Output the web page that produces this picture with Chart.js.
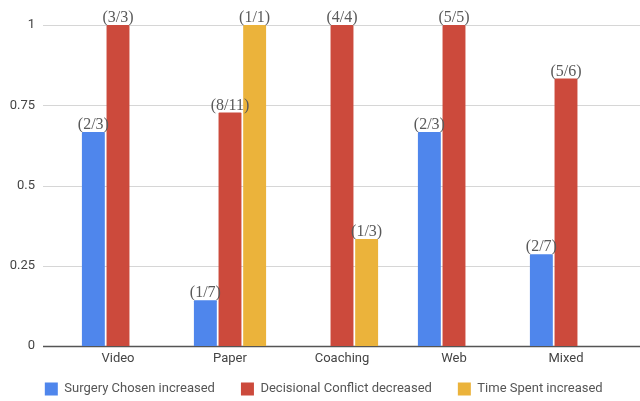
<!DOCTYPE html>
<html>
<head>
<meta charset="utf-8">
<script src="https://cdn.jsdelivr.net/npm/chart.js@4"></script>
<style>
html,body{margin:0;padding:0;background:#fff;}
#wrap{width:640px;height:401px;}
</style>
</head>
<body>
<div id="wrap"><canvas id="c"></canvas></div>
<script>
const categories = ['Video', 'Paper', 'Coaching', 'Web', 'Mixed'];
const surgeryChosen = [2/3, 1/7, null, 2/3, 2/7];
const decisionalConflict = [1, 8/11, 1, 1, 5/6];
const timeSpent = [null, 1, 1/3, null, null];
const surgeryLabels = ['(2/3)', '(1/7)', '', '(2/3)', '(2/7)'];
const conflictLabels = ['(3/3)', '(8/11)', '(4/4)', '(5/5)', '(5/6)'];
const timeLabels = ['', '(1/1)', '(1/3)', '', ''];
const yTickValues = [0, 0.25, 0.5, 0.75, 1];
const yTickLabels = ['0', '0.25', '0.5', '0.75', '1'];

const pointLabels = [surgeryLabels, conflictLabels, timeLabels];

const barLabelPlugin = {
  id: 'barLabels',
  afterDatasetsDraw(chart) {
    const ctx = chart.ctx;
    ctx.save();
    ctx.font = '16px "Liberation Serif", "Times New Roman", serif';
    ctx.fillStyle = '#5a5a5a';
    ctx.textAlign = 'center';
    ctx.textBaseline = 'bottom';
    chart.data.datasets.forEach((ds, di) => {
      const meta = chart.getDatasetMeta(di);
      meta.data.forEach((el, i) => {
        const txt = pointLabels[di][i];
        if (!txt || ds.data[i] == null) return;
        ctx.fillText(txt, el.x, el.y + 1);
      });
    });
    ctx.restore();
  }
};

const gridPlugin = {
  id: 'wideGrid',
  beforeDatasetsDraw(chart) {
    const ctx = chart.ctx;
    const y = chart.scales.y;
    const left = chart.chartArea.left - 19;
    const right = chart.width;
    ctx.save();
    yTickValues.forEach(v => {
      const py = Math.round(y.getPixelForValue(v)) + 0.5;
      ctx.beginPath();
      ctx.strokeStyle = v === 0 ? '#555555' : '#d6d6d6';
      ctx.lineWidth = v === 0 ? 1.5 : 1;
      ctx.moveTo(left, py);
      ctx.lineTo(right, py);
      ctx.stroke();
    });
    ctx.restore();
  }
};

const LEGEND_DX = 7.5, LEGEND_DY = -14.5;
const legendTweak = {
  id: 'legendTweak',
  afterInit(chart) {
    const lg = chart.legend;
    if (!lg) return;
    const fit = lg.fit;
    lg.fit = function () { fit.apply(this, arguments); this.height = 30; };
    const draw = lg.draw;
    lg.draw = function () {
      const ctx = this.ctx;
      const b = this.bottom, l = this.left;
      ctx.save();
      ctx.translate(LEGEND_DX, LEGEND_DY);
      this.bottom = b - LEGEND_DY;
      this.left = l - LEGEND_DX;
      draw.apply(this, arguments);
      this.bottom = b;
      this.left = l;
      ctx.restore();
    };
  }
};

new Chart(document.getElementById('c'), {
  type: 'bar',
  data: {
    labels: categories,
    datasets: [
      { label: 'Surgery Chosen increased', data: surgeryChosen, backgroundColor: '#4f86ec' },
      { label: 'Decisional Conflict decreased', data: decisionalConflict, backgroundColor: '#cc4a3c' },
      { label: 'Time Spent increased', data: timeSpent, backgroundColor: '#ebb33b' }
    ]
  },
  options: {
    responsive: true,
    maintainAspectRatio: false,
    animation: false,
    devicePixelRatio: 1,
    layout: { padding: { top: 25, left: 0, right: 0, bottom: 0 } },
    datasets: { bar: { categoryPercentage: 0.66, barPercentage: 0.93, borderRadius: 1 } },
    plugins: {
      legend: {
        position: 'bottom',
        labels: {
          boxWidth: 13,
          boxHeight: 13,
          padding: 26,
          color: '#555555',
          font: { family: 'Roboto', size: 13 }
        }
      },
      tooltip: { enabled: false }
    },
    scales: {
      x: {
        afterFit(scale) { scale.height = 25; },
        grid: { display: false, drawTicks: false },
        border: { display: false },
        ticks: { color: '#444444', font: { family: 'Roboto', size: 13 }, padding: 5 }
      },
      y: {
        min: 0,
        max: 1,
        afterBuildTicks(scale) { scale.ticks = yTickValues.map(v => ({ value: v })); },
        afterFit(scale) { scale.width = 62; scale.paddingTop = 8; scale.paddingBottom = 8; },
        grid: { display: false, drawTicks: false },
        border: { display: false },
        ticks: {
          color: '#444444',
          font: { family: 'Roboto', size: 13 },
          padding: 27,
          callback: (v) => yTickLabels[yTickValues.indexOf(v)]
        }
      },
      y2: {
        position: 'right',
        display: true,
        afterFit(scale) { scale.width = 18; },
        grid: { display: false },
        border: { display: false },
        ticks: { display: false }
      }
    }
  },
  plugins: [gridPlugin, barLabelPlugin, legendTweak]
});
</script>
</body>
</html>
